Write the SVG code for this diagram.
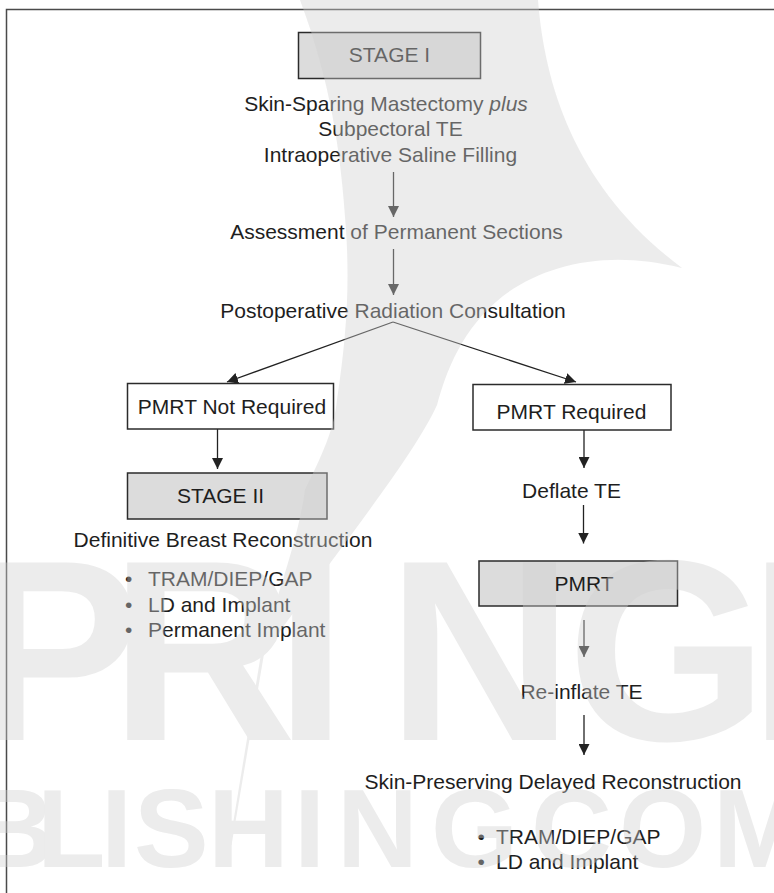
<svg xmlns="http://www.w3.org/2000/svg" width="774" height="893" viewBox="0 0 774 893">
<defs>
<style>
.t{font-family:"Liberation Sans",Arial,Helvetica,sans-serif;font-size:21px;fill:#1e1e1e}
.c{text-anchor:middle}
.box{stroke:#2b2b2b;stroke-width:1.5}
.w{fill:#ffffff}
.g{fill:#dcdcdc}
.ln{stroke:#222;stroke-width:1.3;fill:none;marker-end:url(#ah)}
.wm{font-family:"Liberation Sans",Arial,sans-serif;font-weight:bold}
</style>
<marker id="ah" viewBox="0 0 11 11" refX="11" refY="5.5" markerWidth="11" markerHeight="11" markerUnits="userSpaceOnUse" orient="auto">
<path d="M0,0 L11,5.5 L0,11 Z" fill="#222"/>
</marker>
</defs>
<rect x="0" y="0" width="774" height="893" fill="#ffffff"/>
<g id="frame" stroke="#4a4a4a" stroke-width="1.5" fill="none">
<path d="M6.5,893 L6.5,9.5 L774,9.5"/>
</g>
<g id="connectors">
<line class="ln" x1="393.5" y1="172" x2="393.5" y2="217"/>
<line class="ln" x1="393.5" y1="249" x2="393.5" y2="295"/>
<line class="ln" x1="393" y1="322" x2="227" y2="382"/>
<line class="ln" x1="393" y1="322" x2="576" y2="382"/>
<line class="ln" x1="217.5" y1="429" x2="217.5" y2="469"/>
<line class="ln" x1="584" y1="430" x2="584" y2="468"/>
<line class="ln" x1="583.5" y1="505" x2="583.5" y2="543.5"/>
<line class="ln" x1="584" y1="620" x2="584" y2="657"/>
<line class="ln" x1="584" y1="715" x2="584" y2="755"/>
</g>
<g id="stage1">
<rect class="box g" x="298.5" y="32.5" width="182" height="46"/>
<text class="t c" x="389.5" y="62">STAGE I</text>
</g>
<g id="procedure">
<text class="t c" x="386" y="111">Skin-Sparing Mastectomy <tspan font-style="italic">plus</tspan></text>
<text class="t c" x="390.5" y="136">Subpectoral TE</text>
<text class="t c" x="390.5" y="161.5">Intraoperative Saline Filling</text>
</g>
<g id="assessment">
<text class="t c" x="396.5" y="239">Assessment of Permanent Sections</text>
</g>
<g id="consultation">
<text class="t c" x="393" y="318">Postoperative Radiation Consultation</text>
</g>
<g id="not-required">
<rect class="box w" x="127.5" y="383.5" width="206" height="45.5"/>
<text class="t c" x="232" y="414">PMRT Not Required</text>
</g>
<g id="required">
<rect class="box w" x="473" y="384.5" width="198" height="45.5"/>
<text class="t c" x="571.5" y="418.5">PMRT Required</text>
</g>
<g id="stage2">
<rect class="box g" x="127.5" y="473" width="199.5" height="46"/>
<text class="t c" x="220.5" y="502.5">STAGE II</text>
</g>
<g id="definitive">
<text class="t c" x="223" y="547">Definitive Breast Reconstruction</text>
<text class="t" y="586"><tspan x="125">•</tspan><tspan x="148">TRAM/DIEP/GAP</tspan></text>
<text class="t" y="612"><tspan x="125">•</tspan><tspan x="148">LD and Implant</tspan></text>
<text class="t" y="637"><tspan x="125">•</tspan><tspan x="148">Permanent Implant</tspan></text>
</g>
<g id="deflate">
<text class="t c" x="571.5" y="497.5">Deflate TE</text>
</g>
<g id="pmrt">
<rect class="box g" x="479" y="561" width="198.5" height="45"/>
<text class="t c" x="584" y="591">PMRT</text>
</g>
<g id="reinflate">
<text class="t c" x="581.5" y="698.5">Re-inflate TE</text>
</g>
<g id="delayed">
<text class="t c" x="553" y="788.5">Skin-Preserving Delayed Reconstruction</text>
<text class="t" y="843.5"><tspan x="477.5">•</tspan><tspan x="496">TRAM/DIEP/GAP</tspan></text>
<text class="t" y="868.5"><tspan x="477.5">•</tspan><tspan x="496">LD and Implant</tspan></text>
</g>
<g id="watermark" opacity="0.4" fill="#d0d0d0">
<path d="M300,0 L538,0 C545,90 578,190 682,268 C612,250 548,262 503,296 C462,328 446,372 437,405 C412,460 330,560 268,648 L261,648 C280,590 300,530 305,490 C322,455 334,430 337,400 C346,340 350,290 346,230 C341,150 330,80 300,0 Z"/>
<path d="M262.5,645 L265.5,645 L231.5,845 L229.5,845 Z"/>
<text class="wm" font-size="258" y="740"><tspan x="-31">P</tspan><tspan x="110">R</tspan><tspan x="275">I</tspan><tspan x="387">N</tspan><tspan x="567">G</tspan><tspan x="749">E</tspan></text>
<text class="wm" font-size="112" y="867"><tspan x="-26">B</tspan><tspan x="37">L</tspan><tspan x="101">I</tspan><tspan x="134">S</tspan><tspan x="208">H</tspan><tspan x="294">I</tspan><tspan x="337">N</tspan><tspan x="431">G</tspan><tspan x="531">C</tspan><tspan x="619">O</tspan><tspan x="713">M</tspan></text>
</g>
</svg>
